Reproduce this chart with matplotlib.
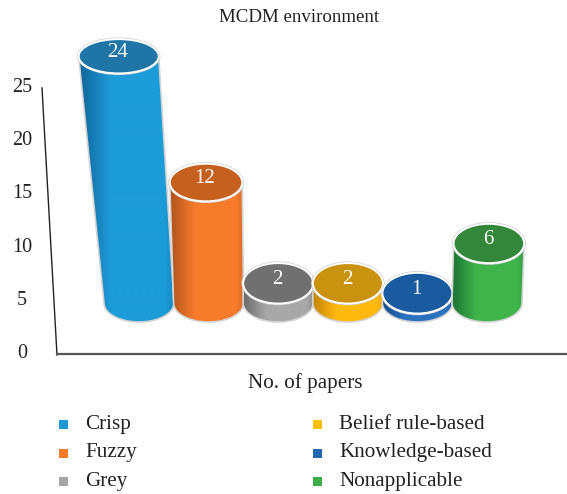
import numpy as np
import matplotlib
matplotlib.use('Agg')
import matplotlib.pyplot as plt
from matplotlib.colors import LinearSegmentedColormap
from matplotlib.patches import Ellipse, PathPatch, Rectangle
from matplotlib.path import Path

plt.rcParams['font.family'] = ['Liberation Serif', 'DejaVu Serif']

# values
categories = ['Crisp', 'Fuzzy', 'Grey', 'Belief rule-based', 'Knowledge-based', 'Nonapplicable']
papers = [24, 12, 2, 2, 1, 6]
y_ticks = [0, 5, 10, 15, 20, 25]

# colours per column: dark side, light side, top face, legend
side_dark = ['#12649a', '#b0521a', '#6a6a6a', '#c48505', '#154c8a', '#1b7433']
side_light = ['#1c9cd8', '#f67c2b', '#a8a8a8', '#ffb90f', '#2a72c0', '#3fb44b']
top_face = ['#1f76a6', '#c5601f', '#707070', '#c9930f', '#1a5a9e', '#33873a']
legend_col = ['#1b9ad6', '#f47b2a', '#a5a5a5', '#ffc000', '#2069b0', '#3cae49']

fig = plt.figure(figsize=(5.67, 4.94), dpi=100)
ax = fig.add_axes([0, 0, 1, 1])
ax.set_xlim(0, 567)
ax.set_ylim(494, 0)
ax.axis('off')

# fake 3d projection, everything in pixels
base_y = 303
base_ry = 19
base_rx = 35
van_x = 280


def value_y(v):
    return base_y - 9.8 * v - 0.02 * v ** 2


def persp(v):
    return 1 + 0.00025 * v ** 2


def ellipse_pts(cx, cy, rx, ry, a0, a1, n=60):
    t = np.radians(np.linspace(a0, a1, n))
    return np.column_stack([cx + rx * np.cos(t), cy + ry * np.sin(t)])


def cylinder(i, v):
    xb = 139 + 69.6 * i
    s = persp(v)
    xt = van_x + (xb - van_x) * s
    yt = value_y(v)
    rxt = base_rx * s
    ryt = 20.5 - 0.14 * v
    z = 2 + i

    # side of the cylinder: down the left edge, round the base, up the right edge
    low = ellipse_pts(xb, base_y, base_rx, base_ry, 180, 0)
    high = ellipse_pts(xt, yt, rxt, ryt, 0, 180)
    pts = np.vstack([low, high, low[:1]])
    body = Path(pts, closed=False)

    cmap = LinearSegmentedColormap.from_list(
        'c', [side_dark[i], side_light[i], side_light[i], side_dark[i]])
    grad = np.concatenate([np.linspace(0, 0.33, 60), np.linspace(0.33, 0.66, 100),
                           np.linspace(0.66, 0.8, 20)])[None, :]
    im = ax.imshow(grad, cmap=cmap, vmin=0, vmax=1, aspect='auto', zorder=z,
                   extent=[min(xb - base_rx, xt - rxt), max(xb + base_rx, xt + rxt), base_y + base_ry, yt],
                   interpolation='bilinear')
    outline = PathPatch(body, fc='none', ec='#d4d4d4', lw=1.2, zorder=z + 0.1)
    ax.add_patch(outline)
    im.set_clip_path(PathPatch(body, transform=ax.transData))

    # top face with white rim
    ax.add_patch(Ellipse((xt, yt), 2 * rxt + 2, 2 * ryt + 2, fc='none', ec='#cfcfcf', lw=1, zorder=z + 0.2))
    ax.add_patch(Ellipse((xt, yt), 2 * rxt, 2 * ryt, fc=top_face[i], ec='white', lw=1.4, zorder=z + 0.3))
    ax.text(xt - 1, yt - 4, str(v), color='white', fontsize=15, ha='center', va='center', zorder=z + 0.4)


for i, v in enumerate(papers):
    cylinder(i, v)

ax.set_xlim(0, 567)
ax.set_ylim(494, 0)

# axes
ax.plot([42, 57], [88, 355], color='#222222', lw=1, zorder=1)
ax.plot([57, 567], [354, 354], color='#555555', lw=1.6, zorder=1)
for t in y_ticks:
    ax.text(22, 353.5 - 53.2 * t / 5, str(t), fontsize=14.5, color='#222222', ha='center', va='center')

ax.text(299, 17, 'MCDM environment', fontsize=13.6, color='#222222', ha='center', va='center')
ax.text(305, 383, 'No. of papers', fontsize=15.2, color='#222222', ha='center', va='center')

# legend
for i, name in enumerate(categories):
    col, row = i // 3, i % 3
    x = 59 + 254 * col
    y = 424 + 28.5 * row
    ax.add_patch(Rectangle((x, y - 4), 9, 9, fc=legend_col[i], ec='none'))
    ax.text(x + 26, y, name, fontsize=15.2, color='#222222', ha='left', va='center')

fig.savefig('out.png', dpi=100)
